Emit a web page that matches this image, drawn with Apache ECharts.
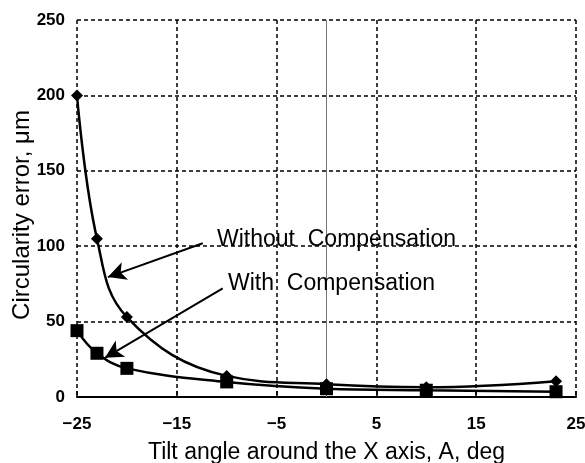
<!DOCTYPE html>
<html><head><meta charset="utf-8">
<script src="https://cdn.jsdelivr.net/npm/echarts@6/dist/echarts.min.js"></script>
<style>html,body{margin:0;padding:0;background:#fff}#c{width:585px;height:463px}</style>
</head><body><div id="c"></div>
<script>
var tiltAngles = [-25, -23, -20, -10, 0, 10, 23];
var withoutComp = [200, 105, 53, 14, 8.5, 6.5, 10.5];
var withComp = [44, 29, 19, 10, 5.5, 4.5, 3.5];
var xTicks = [-25, -15, -5, 5, 15, 25];
var yTicks = [0, 50, 100, 150, 200, 250];
var xTitle = 'Tilt angle around the X axis, A, deg';
var yTitle = 'Circularity error, \u03bcm';
var labelWithout = 'Without  Compensation';
var labelWith = 'With  Compensation';

function pairs(xs, ys){ return xs.map(function(x,i){return [x, ys[i]];}); }

var chart = echarts.init(document.getElementById('c'), null, {renderer:'canvas'});
var dotted = {color:'#000', width:1.5, type:[4,3]};
var font = 'Liberation Sans, Arial, sans-serif';
chart.setOption({
  animation:false,
  backgroundColor:'#fff',
  grid:{left:77, right:9, top:20, bottom:66, show:false, containLabel:false, outerBoundsMode:'none'},
  xAxis:{
    type:'value', min:xTicks[0], max:xTicks[xTicks.length-1], interval:10,
    name:xTitle, nameLocation:'middle', nameGap:44,
    nameTextStyle:{fontFamily:font, fontSize:23, color:'#000'},
    axisLine:{show:true, onZero:false, lineStyle:{color:'#000', width:2}},
    axisTick:{show:true, inside:true, length:6, lineStyle:{color:'#000', width:1.5}},
    axisLabel:{fontFamily:font, fontSize:17, fontWeight:'bold', color:'#000', margin:19,
      formatter:function(v){return v<0 ? '\u2212'+Math.abs(v) : String(v);}},
    splitLine:{show:true, lineStyle:dotted}
  },
  yAxis:{
    type:'value', min:yTicks[0], max:yTicks[yTicks.length-1], interval:50,
    axisLine:{show:false},
    axisTick:{show:false},
    axisLabel:{fontFamily:font, fontSize:17, fontWeight:'bold', color:'#000', margin:12},
    splitLine:{show:true, lineStyle:dotted}
  },
  series:[
    {
      type:'line', data:pairs(tiltAngles, withoutComp), smooth:0.4,
      symbol:'diamond', symbolSize:12, itemStyle:{color:'#000'},
      lineStyle:{color:'#000', width:2.5}, z:5,
      markLine:{silent:true, symbol:'none', label:{show:false}, animation:false,
        lineStyle:{color:'#777', width:1, type:'solid'},
        data:[{xAxis:0}]}
    },
    {
      type:'line', data:pairs(tiltAngles, withComp), smooth:0.4,
      symbol:'rect', symbolSize:13, itemStyle:{color:'#000'},
      lineStyle:{color:'#000', width:2.5}, z:5,
      markLine:{silent:true, symbol:['none','arrow'], symbolSize:[14,18], label:{show:false}, animation:false,
        lineStyle:{color:'#000', width:2, type:'solid'},
        data:[
          [{coord:[-12.4,102]},{coord:[-21.9,79.5]}],
          [{coord:[-10.4,72]},{coord:[-22.2,26]}]
        ]}
    }
  ],
  graphic:[
    {type:'text', x:22, y:215, rotation:Math.PI/2, z:10,
      style:{text:yTitle, font:'24px '+font, fill:'#000', textAlign:'center', textVerticalAlign:'middle'}},
    {type:'text', left:217, top:228, z:10, style:{text:labelWithout, font:'23px '+font, fill:'#000'}},
    {type:'text', left:228, top:272, z:10, style:{text:labelWith, font:'23px '+font, fill:'#000'}}
  ]
});
</script></body></html>
